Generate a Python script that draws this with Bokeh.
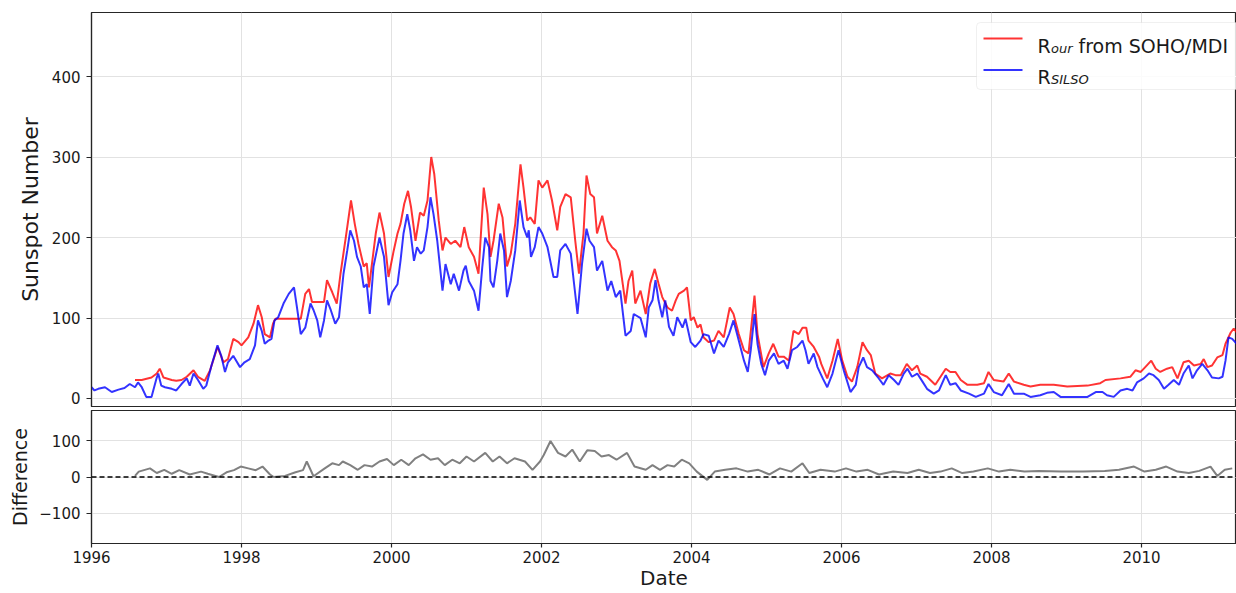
from bokeh.plotting import figure
from bokeh.models import Range1d, FixedTicker, Span, BoxAnnotation, Label, Arrow
from bokeh.layouts import column
from bokeh.embed import file_html
from bokeh.resources import INLINE

# ---------------- data ----------------
silso_year = [1996.00, 1996.04, 1996.09, 1996.18, 1996.27, 1996.36, 1996.44, 1996.51, 1996.58, 1996.62,
              1996.67, 1996.73, 1996.80, 1996.87, 1996.89, 1996.93, 1996.98, 1997.07, 1997.13, 1997.20,
              1997.27, 1997.31, 1997.36, 1997.42, 1997.49, 1997.53, 1997.60, 1997.68, 1997.73, 1997.78,
              1997.82, 1997.89, 1997.98, 1998.04, 1998.11, 1998.18, 1998.22, 1998.27, 1998.31, 1998.36,
              1998.40, 1998.44, 1998.49, 1998.56, 1998.63, 1998.70, 1998.74, 1998.79, 1998.85, 1998.92,
              1998.96, 1999.01, 1999.05, 1999.10, 1999.14, 1999.19, 1999.25, 1999.30, 1999.36, 1999.41,
              1999.45, 1999.50, 1999.54, 1999.59, 1999.63, 1999.67, 1999.71, 1999.76, 1999.84, 1999.90,
              1999.96, 2000.01, 2000.08, 2000.12, 2000.16, 2000.21, 2000.25, 2000.30, 2000.34, 2000.39,
              2000.43, 2000.48, 2000.52, 2000.56, 2000.61, 2000.68, 2000.72, 2000.79, 2000.83, 2000.90,
              2000.96, 2000.99, 2001.03, 2001.10, 2001.16, 2001.21, 2001.25, 2001.30, 2001.32, 2001.36,
              2001.41, 2001.45, 2001.50, 2001.54, 2001.59, 2001.65, 2001.71, 2001.76, 2001.81, 2001.83,
              2001.86, 2001.91, 2001.96, 2002.01, 2002.08, 2002.16, 2002.21, 2002.25, 2002.32, 2002.39,
              2002.43, 2002.48, 2002.54, 2002.60, 2002.64, 2002.70, 2002.74, 2002.81, 2002.88, 2002.93,
              2002.99, 2003.05, 2003.12, 2003.19, 2003.23, 2003.32, 2003.39, 2003.43, 2003.48, 2003.52,
              2003.56, 2003.61, 2003.65, 2003.70, 2003.76, 2003.81, 2003.88, 2003.92, 2003.99, 2004.05,
              2004.12, 2004.16, 2004.23, 2004.30, 2004.36, 2004.43, 2004.50, 2004.56, 2004.63, 2004.70,
              2004.75, 2004.79, 2004.84, 2004.88, 2004.93, 2004.98, 2005.03, 2005.10, 2005.16, 2005.23,
              2005.28, 2005.34, 2005.41, 2005.48, 2005.52, 2005.56, 2005.63, 2005.68, 2005.75, 2005.81,
              2005.88, 2005.96, 2006.03, 2006.12, 2006.19, 2006.23, 2006.29, 2006.34, 2006.41, 2006.48,
              2006.56, 2006.63, 2006.70, 2006.76, 2006.83, 2006.88, 2006.94, 2007.01, 2007.08, 2007.14,
              2007.23, 2007.30, 2007.39, 2007.45, 2007.52, 2007.59, 2007.70, 2007.79, 2007.90, 2007.96,
              2008.03, 2008.14, 2008.23, 2008.30, 2008.43, 2008.52, 2008.65, 2008.74, 2008.83, 2008.92,
              2009.10, 2009.28, 2009.39, 2009.48, 2009.54, 2009.63, 2009.72, 2009.81, 2009.88, 2009.94,
              2010.03, 2010.10, 2010.16, 2010.23, 2010.30, 2010.36, 2010.43, 2010.50, 2010.56, 2010.63,
              2010.68, 2010.74, 2010.81, 2010.88, 2010.94, 2011.03, 2011.08, 2011.12, 2011.16, 2011.21,
              2011.27]
silso_value = [14, 10, 12, 14, 8, 11, 13, 18, 14, 20,
               14, 2, 2, 26, 31, 16, 14, 12, 10, 18,
               25, 16, 31, 23, 12, 16, 41, 66, 53, 33,
               45, 53, 39, 45, 49, 66, 97, 84, 68, 72,
               74, 97, 101, 118, 130, 138, 113, 80, 88, 118,
               110, 97, 76, 97, 122, 110, 93, 101, 155, 184,
               209, 196, 176, 164, 138, 142, 105, 164, 200, 176,
               116, 132, 142, 171, 205, 229, 209, 171, 188, 180,
               184, 213, 250, 229, 196, 134, 167, 142, 155, 134,
               159, 165, 146, 134, 109, 163, 200, 188, 146, 138,
               171, 205, 184, 126, 146, 184, 246, 213, 200, 209,
               176, 188, 213, 205, 188, 151, 151, 184, 192, 180,
               146, 105, 167, 211, 196, 188, 159, 171, 134, 146,
               126, 134, 78, 84, 105, 100, 76, 113, 122, 147,
               122, 101, 122, 89, 78, 101, 88, 99, 70, 64,
               72, 80, 78, 56, 72, 64, 80, 97, 72, 47,
               33, 60, 105, 68, 43, 29, 47, 56, 43, 47,
               37, 60, 64, 72, 60, 43, 56, 39, 25, 14,
               31, 60, 35, 8, 17, 39, 51, 39, 35, 27,
               17, 29, 23, 17, 31, 37, 27, 31, 21, 12,
               6, 10, 29, 17, 19, 10, 6, 2, 6, 18,
               8, 4, 18, 6, 6, 2, 4, 7, 8, 2,
               2, 2, 8, 8, 4, 2, 10, 12, 10, 20,
               25, 31, 29, 23, 12, 17, 23, 17, 31, 41,
               25, 35, 43, 35, 26, 25, 27, 47, 76, 74,
               68]

our_year = [1996.58, 1996.67, 1996.80, 1996.87, 1996.91, 1996.96, 1997.07, 1997.13, 1997.20, 1997.27,
            1997.36, 1997.42, 1997.51, 1997.58, 1997.68, 1997.76, 1997.82, 1997.89, 1997.96, 1998.00,
            1998.09, 1998.16, 1998.22, 1998.27, 1998.31, 1998.38, 1998.42, 1998.45, 1998.79, 1998.85,
            1998.90, 1998.94, 1999.10, 1999.14, 1999.21, 1999.27, 1999.32, 1999.39, 1999.46, 1999.51,
            1999.56, 1999.63, 1999.67, 1999.70, 1999.79, 1999.84, 1999.90, 1999.96, 2000.03, 2000.08,
            2000.12, 2000.17, 2000.22, 2000.26, 2000.32, 2000.38, 2000.43, 2000.48, 2000.53, 2000.57,
            2000.63, 2000.68, 2000.72, 2000.79, 2000.85, 2000.92, 2000.97, 2001.03, 2001.10, 2001.16,
            2001.23, 2001.28, 2001.32, 2001.36, 2001.43, 2001.48, 2001.54, 2001.59, 2001.65, 2001.72,
            2001.76, 2001.81, 2001.85, 2001.91, 2001.96, 2002.01, 2002.08, 2002.14, 2002.21, 2002.25,
            2002.32, 2002.39, 2002.45, 2002.50, 2002.56, 2002.60, 2002.65, 2002.70, 2002.74, 2002.81,
            2002.88, 2002.94, 2002.99, 2003.04, 2003.12, 2003.16, 2003.21, 2003.25, 2003.32, 2003.39,
            2003.45, 2003.51, 2003.56, 2003.61, 2003.68, 2003.74, 2003.79, 2003.83, 2003.90, 2003.94,
            2003.99, 2004.03, 2004.08, 2004.12, 2004.16, 2004.23, 2004.30, 2004.36, 2004.43, 2004.51,
            2004.56, 2004.63, 2004.70, 2004.76, 2004.84, 2004.88, 2004.96, 2005.03, 2005.09, 2005.16,
            2005.23, 2005.30, 2005.36, 2005.43, 2005.48, 2005.53, 2005.56, 2005.63, 2005.70, 2005.73,
            2005.81, 2005.88, 2005.95, 2006.01, 2006.08, 2006.14, 2006.21, 2006.28, 2006.34, 2006.39,
            2006.45, 2006.54, 2006.65, 2006.72, 2006.79, 2006.87, 2006.94, 2007.01, 2007.05, 2007.14,
            2007.25, 2007.32, 2007.39, 2007.45, 2007.52, 2007.59, 2007.68, 2007.81, 2007.90, 2007.96,
            2008.03, 2008.16, 2008.23, 2008.30, 2008.43, 2008.52, 2008.65, 2008.83, 2009.01, 2009.28,
            2009.45, 2009.52, 2009.72, 2009.85, 2009.92, 2009.99, 2010.05, 2010.13, 2010.19, 2010.25,
            2010.34, 2010.41, 2010.48, 2010.56, 2010.63, 2010.70, 2010.79, 2010.83, 2010.88, 2010.94,
            2011.01, 2011.08, 2011.12, 2011.19, 2011.23, 2011.27]
our_value = [23, 23, 26, 31, 37, 26, 23, 22, 23, 27,
             35, 27, 22, 35, 64, 45, 49, 74, 70, 66,
             76, 93, 116, 101, 80, 76, 93, 99, 99, 130,
             136, 120, 120, 147, 132, 118, 155, 200, 246, 217,
             192, 164, 168, 138, 205, 231, 205, 151, 184, 205,
             217, 242, 258, 238, 196, 231, 227, 246, 300, 279,
             221, 184, 200, 192, 196, 188, 213, 188, 176, 155,
             262, 229, 176, 196, 242, 225, 164, 180, 217, 291,
             262, 221, 225, 217, 271, 262, 271, 246, 209, 238,
             254, 250, 196, 155, 205, 277, 254, 250, 205, 227,
             196, 188, 184, 171, 118, 146, 159, 118, 134, 105,
             143, 161, 143, 126, 113, 109, 122, 130, 134, 138,
             97, 101, 88, 92, 76, 70, 72, 84, 76, 113,
             105, 80, 60, 56, 128, 80, 39, 56, 68, 52,
             52, 47, 84, 80, 88, 88, 72, 64, 52, 43,
             25, 47, 74, 47, 27, 21, 39, 70, 60, 54,
             31, 25, 31, 29, 29, 43, 35, 41, 31, 27,
             17, 27, 37, 33, 33, 23, 17, 17, 19, 33,
             23, 21, 31, 21, 17, 15, 17, 17, 15, 16,
             19, 23, 25, 27, 35, 33, 39, 47, 37, 33,
             37, 39, 25, 45, 47, 41, 43, 49, 39, 41,
             51, 54, 68, 82, 87, 82]

diff_year = [1996.58, 1996.63, 1996.78, 1996.87, 1996.97, 1997.07, 1997.17, 1997.31, 1997.46, 1997.55,
             1997.70, 1997.80, 1997.90, 1997.99, 1998.09, 1998.19, 1998.28, 1998.38, 1998.43, 1998.58,
             1998.72, 1998.82, 1998.87, 1998.96, 1999.11, 1999.21, 1999.30, 1999.35, 1999.45, 1999.55,
             1999.64, 1999.74, 1999.84, 1999.94, 2000.03, 2000.13, 2000.23, 2000.32, 2000.42, 2000.52,
             2000.62, 2000.71, 2000.81, 2000.91, 2001.00, 2001.10, 2001.25, 2001.35, 2001.44, 2001.54,
             2001.64, 2001.78, 2001.88, 2001.98, 2002.03, 2002.12, 2002.22, 2002.32, 2002.41, 2002.51,
             2002.61, 2002.71, 2002.80, 2002.90, 2003.00, 2003.14, 2003.24, 2003.39, 2003.48, 2003.58,
             2003.68, 2003.77, 2003.87, 2003.97, 2004.07, 2004.21, 2004.31, 2004.45, 2004.60, 2004.75,
             2004.89, 2005.04, 2005.18, 2005.33, 2005.48, 2005.57, 2005.72, 2005.91, 2006.06, 2006.20,
             2006.35, 2006.50, 2006.69, 2006.88, 2007.03, 2007.18, 2007.32, 2007.47, 2007.61, 2007.76,
             2007.95, 2008.10, 2008.25, 2008.44, 2008.63, 2008.93, 2009.22, 2009.51, 2009.70, 2009.90,
             2010.04, 2010.19, 2010.33, 2010.48, 2010.63, 2010.77, 2010.92, 2011.01, 2011.11, 2011.21]
diff_value = [3, 15, 24, 11, 20, 9, 19, 7, 15, 9,
              0, 13, 19, 29, 24, 19, 29, 7, 0, 3,
              13, 19, 43, 2, 24, 38, 33, 43, 33, 20,
              33, 29, 43, 50, 33, 48, 33, 52, 63, 48,
              52, 33, 48, 38, 57, 43, 67, 43, 57, 38,
              52, 43, 20, 43, 61, 100, 67, 57, 76, 43,
              74, 72, 57, 61, 48, 67, 29, 20, 33, 20,
              33, 29, 48, 38, 15, -8, 15, 20, 24, 15,
              20, 7, 24, 15, 38, 11, 20, 15, 24, 15,
              20, 7, 15, 11, 20, 11, 15, 24, 11, 15,
              24, 15, 20, 15, 17, 15, 15, 17, 20, 29,
              15, 20, 29, 15, 11, 17, 29, 3, 20, 24]

x_ticks = [1996, 1998, 2000, 2002, 2004, 2006, 2008, 2010]
top_y_ticks = [0, 100, 200, 300, 400]
bottom_y_ticks = [-100, 0, 100]

# ---------------- layout / style ----------------
FONT = "DejaVu Sans"
TXT = "#1a1a1a"
EDGE = "#262626"
GRID = "#e2e2e2"
FRAME_LEFT = 91
FRAME_W = 1145
TOP_H = 394
BOT_H = 133
GAP = 4
PX_PER_YEAR = 75.0
X0 = 1996.0
X1 = X0 + FRAME_W / PX_PER_YEAR
Y0, Y1 = -9.94, 479.6
D0, D1 = -184.7, 184.7

x_range = Range1d(X0, X1)


def base_style(p):
    p.outline_line_color = EDGE
    p.outline_line_width = 1.2
    p.background_fill_color = "white"
    p.border_fill_color = "white"
    for ax in p.axis:
        ax.axis_line_color = EDGE
        ax.axis_line_width = 1.2
        ax.major_tick_line_color = EDGE
        ax.major_tick_line_width = 1.2
        ax.minor_tick_line_color = None
        ax.major_tick_in = 0
        ax.major_label_text_font = FONT
        ax.major_label_text_color = TXT
        ax.major_label_text_font_size = "15px"
        ax.axis_label_text_font = FONT
        ax.axis_label_text_color = TXT
        ax.axis_label_text_font_style = "normal"
    for g in p.grid:
        g.grid_line_color = GRID
        g.grid_line_width = 1


# ---------- top panel ----------
p1 = figure(frame_width=FRAME_W, frame_height=TOP_H, x_range=x_range, y_range=Range1d(Y0, Y1),
            output_backend="svg", toolbar_location=None, x_axis_location=None,
            min_border_left=FRAME_LEFT, min_border_right=0, min_border_top=12, min_border_bottom=GAP)
base_style(p1)
p1.xgrid.ticker = FixedTicker(ticks=x_ticks)
p1.yaxis.ticker = FixedTicker(ticks=top_y_ticks)
p1.ygrid.ticker = FixedTicker(ticks=top_y_ticks)
p1.yaxis.major_tick_out = 5
p1.yaxis.major_label_standoff = 6
p1.yaxis.axis_label = "Sunspot Number"
p1.yaxis.axis_label_text_font_size = "22px"
p1.yaxis.axis_label_standoff = 6

p1.line(our_year, our_value, line_color="red", line_alpha=0.8, line_width=2)
p1.line(silso_year, silso_value, line_color="blue", line_alpha=0.8, line_width=2)

# tick marks of the shared x axis, below the top panel (labels only on the bottom panel)
tick_len = GAP * (Y1 - Y0) / TOP_H
for t in x_ticks:
    p1.add_layout(Arrow(end=None, x_start=t, y_start=Y0, x_end=t, y_end=Y0 - tick_len,
                        line_color=EDGE, line_width=1.2))


# legend (drawn by hand so that the subscripts can be shown)
def sx(px):
    return X0 + (px - FRAME_LEFT) / PX_PER_YEAR


def sy(py):
    return Y1 - (py - 12) * (Y1 - Y0) / TOP_H


p1.add_layout(BoxAnnotation(left=sx(976), right=sx(1245), top=sy(22), bottom=sy(89),
                            fill_color="white", fill_alpha=0.85, line_color="#cccccc",
                            line_width=1, border_radius=4))
p1.add_layout(Arrow(end=None, x_start=sx(983), y_start=sy(38), x_end=sx(1022), y_end=sy(38),
                    line_color="red", line_alpha=0.8, line_width=2))
p1.add_layout(Arrow(end=None, x_start=sx(983), y_start=sy(69.5), x_end=sx(1022), y_end=sy(69.5),
                    line_color="blue", line_alpha=0.8, line_width=2))
for txt, px, py, size, style in [("R", 1037, 45, "19px", "normal"),
                                 ("our", 1050.5, 47.5, "13px", "italic"),
                                 ("from SOHO/MDI", 1078, 45, "19px", "normal"),
                                 ("R", 1037, 76.5, "19px", "normal"),
                                 ("SILSO", 1050.5, 79, "13px", "italic")]:
    p1.add_layout(Label(x=sx(px), y=sy(py), text=txt, text_font=FONT, text_font_size=size,
                        text_font_style=style, text_color=TXT, text_align="left",
                        text_baseline="alphabetic"))

# ---------- bottom panel ----------
p2 = figure(frame_width=FRAME_W, frame_height=BOT_H, x_range=x_range, y_range=Range1d(D0, D1),
            output_backend="svg", toolbar_location=None,
            min_border_left=FRAME_LEFT, min_border_right=0, min_border_top=0, min_border_bottom=0)
base_style(p2)
p2.xaxis.ticker = FixedTicker(ticks=x_ticks)
p2.xgrid.ticker = FixedTicker(ticks=x_ticks)
p2.xaxis.major_tick_out = 4
p2.xaxis.major_label_standoff = 3
p2.xaxis.axis_label = "Date"
p2.xaxis.axis_label_text_font_size = "20px"
p2.xaxis.axis_label_standoff = 0
p2.yaxis.ticker = FixedTicker(ticks=bottom_y_ticks)
p2.ygrid.ticker = FixedTicker(ticks=bottom_y_ticks)
p2.yaxis.major_label_overrides = {-100: "\u2212100"}
p2.yaxis.major_tick_out = 5
p2.yaxis.major_label_standoff = 6
p2.yaxis.axis_label = "Difference"
p2.yaxis.axis_label_text_font_size = "19px"
p2.yaxis.axis_label_standoff = 5

p2.line(diff_year, diff_value, line_color="gray", line_width=2)
p2.add_layout(Span(location=0, dimension="width", line_color="black", line_width=1.5,
                   line_dash="5 3"))

layout = column(p1, p2, spacing=0)
open("out.html", "w").write(file_html(layout, INLINE))
